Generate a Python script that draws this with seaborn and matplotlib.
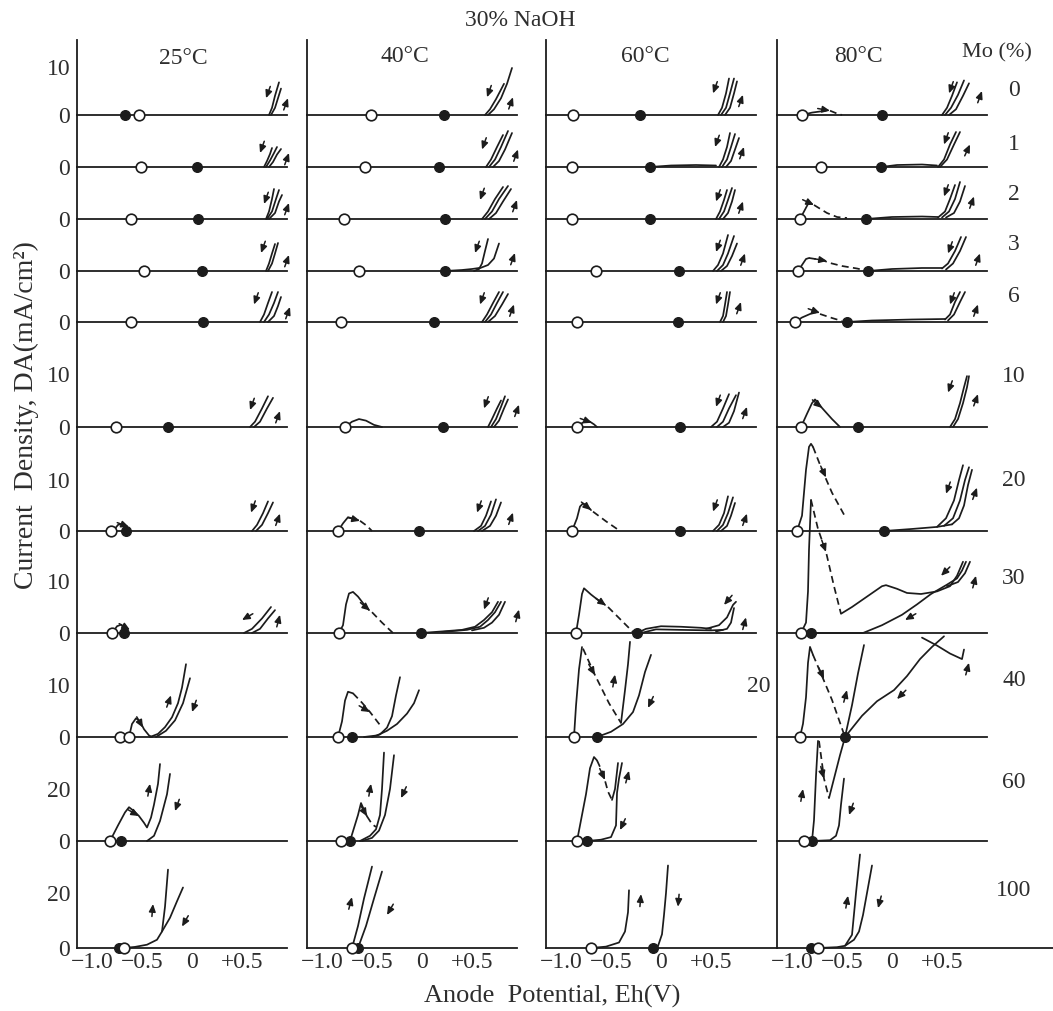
import math
import matplotlib
matplotlib.use("Agg")
import matplotlib.pyplot as plt
import seaborn as sns

# ---------------------------------------------------------------- data
temps = ["25°C", "40°C", "60°C", "80°C"]
mo_pct = ["0", "1", "2", "3", "6", "10", "20", "30", "40", "60", "100"]

# potentials (V) of the open circles and the filled circles, one per Mo row
open_25 = [[-0.53], [-0.51], [-0.61], [-0.48], [-0.61], [-0.76], [-0.81], [-0.80], [-0.72, -0.63], [-0.82], [-0.68]]
filled_25 = [-0.67, 0.05, 0.06, 0.10, 0.11, -0.24, -0.66, -0.68, None, -0.71, -0.73]
open_40 = [[-0.51], [-0.57], [-0.78], [-0.63], [-0.81], [-0.77], [-0.84], [-0.83], [-0.84], [-0.81], [-0.70]]
filled_40 = [0.22, 0.17, 0.23, 0.23, 0.12, 0.21, -0.03, -0.01, -0.70, -0.72, -0.64]
open_60 = [[-0.88], [-0.89], [-0.89], [-0.65], [-0.84], [-0.84], [-0.89], [-0.85], [-0.87], [-0.84], [-0.70]]
filled_60 = [-0.21, -0.11, -0.11, 0.18, 0.17, 0.19, 0.19, -0.24, -0.64, -0.74, -0.08]
open_80 = [[-0.90], [-0.71], [-0.92], [-0.94], [-0.97], [-0.91], [-0.95], [-0.91], [-0.92], [-0.88], [-0.74]]
filled_80 = [-0.10, -0.11, -0.26, -0.24, -0.45, -0.34, -0.08, -0.81, -0.47, -0.80, -0.81]

# polarisation curves (V, mA/cm2); "s" = measured sweep, "d" = dashed transition
curves_25 = [
    [("s", [(0.77, 0), (0.80, 1.5), (0.83, 4.0), (0.87, 6.8)]),
     ("s", [(0.79, 0), (0.83, 1.5), (0.86, 3.5), (0.89, 5.5)])],
    [("s", [(0.72, 0), (0.75, 1.2), (0.78, 2.6), (0.80, 3.8)]),
     ("s", [(0.74, 0), (0.78, 1.3), (0.82, 2.8), (0.85, 4.0)]),
     ("s", [(0.77, 0), (0.81, 1.0), (0.85, 2.5), (0.89, 3.6)])],
    [("s", [(0.74, 0), (0.77, 1.5), (0.80, 4.0), (0.82, 6.0)]),
     ("s", [(0.75, 0), (0.80, 1.5), (0.84, 4.0), (0.87, 5.8)]),
     ("s", [(0.77, 0), (0.83, 1.2), (0.87, 3.5), (0.90, 4.8)])],
    [("s", [(0.74, 0), (0.77, 1.5), (0.80, 3.5), (0.83, 5.4)]),
     ("s", [(0.76, 0), (0.80, 1.5), (0.83, 3.5), (0.86, 5.6)])],
    [("s", [(0.68, 0), (0.72, 1.5), (0.76, 3.8), (0.80, 6.0)]),
     ("s", [(0.72, 0), (0.77, 1.5), (0.82, 3.8), (0.86, 6.0)]),
     ("s", [(0.76, 0), (0.82, 1.2), (0.86, 3.2), (0.89, 5.0)])],
    [("s", [(0.58, 0), (0.63, 1.0), (0.70, 3.5), (0.76, 5.8)]),
     ("s", [(0.62, 0), (0.68, 1.0), (0.75, 3.5), (0.81, 5.5)])],
    [("s", [(-0.78, 0.2), (-0.74, 1.2), (-0.70, 1.4), (-0.66, 0.5)]),
     ("s", [(0.60, 0), (0.65, 1.2), (0.71, 3.5), (0.76, 5.8)]),
     ("s", [(0.64, 0), (0.70, 1.2), (0.76, 3.5), (0.81, 5.6)])],
    [("s", [(-0.79, 0.2), (-0.75, 1.3), (-0.71, 1.6), (-0.66, 0.6)]),
     ("s", [(0.52, 0), (0.60, 0.8), (0.70, 2.8), (0.79, 5.0)]),
     ("s", [(0.60, 0), (0.68, 0.8), (0.76, 2.8), (0.83, 4.4)])],
    [("s", [(-0.63, 0), (-0.60, 2.5), (-0.56, 3.6), (-0.52, 3.0), (-0.48, 1.5), (-0.43, 0.3), (-0.40, 0)]),
     ("s", [(-0.42, 0), (-0.34, 0.6), (-0.27, 1.9), (-0.20, 3.8), (-0.14, 6.5), (-0.10, 9.5), (-0.06, 14.0)]),
     ("s", [(-0.36, 0), (-0.26, 1.2), (-0.17, 3.2), (-0.09, 6.5), (-0.02, 11.3)])],
    [("s", [(-0.82, 0), (-0.74, 6), (-0.67, 11), (-0.63, 13), (-0.58, 11.5), (-0.53, 9.6), (-0.48, 7),
            (-0.45, 5.2), (-0.41, 9), (-0.38, 14), (-0.34, 22), (-0.32, 29.6)]),
     ("s", [(-0.45, 0), (-0.38, 2), (-0.32, 7.7), (-0.25, 18), (-0.22, 25.8)])],
    [("s", [(-0.68, 0), (-0.57, 0.4), (-0.45, 1.2), (-0.35, 3.0), (-0.30, 6.0), (-0.27, 15), (-0.24, 28.5)]),
     ("s", [(-0.30, 6.0), (-0.22, 11), (-0.15, 17), (-0.09, 22)])],
]

curves_40 = [
    [("s", [(0.63, 0), (0.68, 1.2), (0.74, 3.3), (0.82, 6.5)]),
     ("s", [(0.66, 0), (0.72, 1.2), (0.79, 3.5), (0.85, 6.5), (0.90, 9.8)])],
    [("s", [(0.64, 0), (0.69, 1.5), (0.75, 4.0), (0.81, 6.4)]),
     ("s", [(0.67, 0), (0.73, 1.5), (0.79, 4.0), (0.86, 7.2)]),
     ("s", [(0.71, 0), (0.77, 1.2), (0.83, 3.5), (0.90, 6.8)])],
    [("s", [(0.60, 0), (0.66, 1.5), (0.73, 4.0), (0.81, 6.4)]),
     ("s", [(0.63, 0), (0.70, 1.5), (0.77, 4.0), (0.86, 6.6)]),
     ("s", [(0.67, 0), (0.74, 1.2), (0.81, 3.5), (0.89, 6.0)])],
    [("s", [(0.23, 0), (0.40, 0.2), (0.50, 0.4), (0.57, 0.6)]),
     ("s", [(0.52, 0), (0.57, 0.4), (0.60, 1.5), (0.63, 4.0), (0.66, 6.4)]),
     ("s", [(0.57, 0.5), (0.66, 1.2), (0.72, 2.5), (0.77, 5.5)])],
    [("s", [(0.60, 0), (0.65, 1.5), (0.71, 3.8), (0.77, 6.0)]),
     ("s", [(0.63, 0), (0.69, 1.5), (0.75, 3.8), (0.81, 6.0)]),
     ("s", [(0.66, 0), (0.73, 1.2), (0.80, 3.5), (0.86, 5.6)])],
    [("s", [(-0.77, 0), (-0.70, 1.0), (-0.63, 1.5), (-0.56, 1.2), (-0.48, 0.4), (-0.40, 0)]),
     ("s", [(0.66, 0), (0.70, 1.5), (0.75, 3.5), (0.79, 5.0)]),
     ("s", [(0.69, 0), (0.74, 1.5), (0.79, 3.8), (0.83, 5.8)]),
     ("s", [(0.72, 0), (0.77, 1.2), (0.82, 3.5), (0.86, 5.2)])],
    [("s", [(-0.84, 0), (-0.79, 1.5), (-0.74, 2.7), (-0.70, 2.5), (-0.64, 2.1)]),
     ("d", [(-0.62, 2.0), (-0.55, 1.0), (-0.50, 0)]),
     ("s", [(0.52, 0), (0.59, 1.0), (0.64, 3.0), (0.69, 5.8)]),
     ("s", [(0.56, 0), (0.63, 1.0), (0.69, 3.2), (0.74, 6.2)]),
     ("s", [(0.60, 0), (0.68, 1.0), (0.74, 3.0), (0.79, 5.6)])],
    [("s", [(-0.83, 0), (-0.79, 1.5), (-0.76, 5.5), (-0.73, 7.6), (-0.69, 7.9), (-0.64, 7.0), (-0.58, 5.5), (-0.53, 4.4)]),
     ("d", [(-0.50, 4.0), (-0.40, 2.0), (-0.29, 0)]),
     ("s", [(-0.01, 0), (0.20, 0.3), (0.40, 0.6), (0.53, 1.2), (0.62, 2.5), (0.70, 4.0), (0.76, 6.0)]),
     ("s", [(0.20, 0.2), (0.45, 0.6), (0.58, 1.2), (0.66, 2.5), (0.73, 4.0), (0.79, 6.0)]),
     ("s", [(0.50, 0.5), (0.62, 1.0), (0.70, 2.0), (0.77, 3.5), (0.83, 6.0)])],
    [("s", [(-0.84, 0), (-0.80, 3.0), (-0.77, 7.0), (-0.74, 8.7), (-0.69, 8.4)]),
     ("d", [(-0.69, 8.4), (-0.60, 6.6), (-0.52, 4.8), (-0.46, 3.3), (-0.42, 2.3)]),
     ("s", [(-0.50, 0), (-0.42, 0.5), (-0.35, 1.8), (-0.30, 4.0), (-0.26, 8.0), (-0.22, 11.5)]),
     ("s", [(-0.58, 0), (-0.45, 0.3), (-0.35, 1.2), (-0.25, 2.5), (-0.15, 4.5), (-0.08, 6.5), (-0.03, 9.0)])],
    [("s", [(-0.72, 0), (-0.68, 5), (-0.64, 10), (-0.61, 14.6), (-0.58, 12), (-0.55, 9.5)]),
     ("d", [(-0.55, 9.5), (-0.50, 6.5), (-0.46, 5.4)]),
     ("s", [(-0.62, 0), (-0.52, 2), (-0.46, 4.5), (-0.42, 10), (-0.40, 20), (-0.38, 34)]),
     ("s", [(-0.60, 0), (-0.50, 1.2), (-0.43, 4.0), (-0.37, 10), (-0.32, 20), (-0.28, 33)])],
    [("s", [(-0.70, 0), (-0.64, 8), (-0.58, 18), (-0.50, 29.6)]),
     ("s", [(-0.64, 0), (-0.56, 8), (-0.48, 18), (-0.40, 27.8)])],
]

curves_60 = [
    [("s", [(0.57, 0), (0.61, 1.5), (0.65, 4.5), (0.68, 7.6)]),
     ("s", [(0.60, 0), (0.65, 1.5), (0.69, 4.5), (0.73, 7.6)]),
     ("s", [(0.64, 0), (0.69, 1.5), (0.73, 4.5), (0.76, 7.0)])],
    [("s", [(-0.11, 0), (0.10, 0.3), (0.35, 0.4), (0.55, 0.3)]),
     ("s", [(0.58, 0), (0.62, 1.5), (0.66, 4.0), (0.69, 6.8)]),
     ("s", [(0.61, 0), (0.66, 1.5), (0.70, 4.0), (0.74, 6.6)]),
     ("s", [(0.65, 0), (0.70, 1.2), (0.74, 3.5), (0.78, 5.8)])],
    [("s", [(0.55, 0), (0.59, 1.5), (0.63, 3.8), (0.66, 5.8)]),
     ("s", [(0.58, 0), (0.63, 1.5), (0.67, 3.8), (0.71, 6.2)]),
     ("s", [(0.62, 0), (0.67, 1.2), (0.71, 3.5), (0.74, 5.8)])],
    [("s", [(0.52, 0), (0.57, 1.2), (0.62, 3.5), (0.67, 7.2)]),
     ("s", [(0.56, 0), (0.62, 1.2), (0.67, 3.5), (0.73, 7.0)]),
     ("s", [(0.60, 0), (0.66, 1.0), (0.71, 3.0), (0.76, 5.5)])],
    [("s", [(0.59, 0), (0.62, 1.2), (0.64, 3.5), (0.66, 6.0)]),
     ("s", [(0.62, 0), (0.65, 1.2), (0.67, 3.5), (0.69, 6.0)])],
    [("s", [(-0.84, 0), (-0.80, 0.6), (-0.76, 1.1), (-0.71, 1.0), (-0.67, 0.5), (-0.64, 0)]),
     ("s", [(0.50, 0), (0.56, 1.0), (0.62, 3.5), (0.68, 6.2)]),
     ("s", [(0.56, 0), (0.62, 1.0), (0.68, 3.5), (0.75, 6.0)]),
     ("s", [(0.62, 0), (0.68, 0.8), (0.73, 3.0), (0.78, 6.5)])],
    [("s", [(-0.89, 0), (-0.84, 2.5), (-0.81, 4.8), (-0.78, 5.4), (-0.74, 5.0), (-0.70, 4.1)]),
     ("d", [(-0.68, 3.8), (-0.55, 1.9), (-0.41, 0)]),
     ("s", [(0.52, 0), (0.58, 1.2), (0.63, 3.5), (0.67, 6.8)]),
     ("s", [(0.56, 0), (0.62, 1.2), (0.67, 3.5), (0.72, 6.6)]),
     ("s", [(0.60, 0), (0.66, 1.0), (0.70, 3.0), (0.74, 5.5)])],
    [("s", [(-0.85, 0), (-0.82, 3.5), (-0.79, 7.5), (-0.77, 8.6), (-0.70, 7.4), (-0.62, 6.2), (-0.56, 5.4)]),
     ("d", [(-0.53, 5.0), (-0.40, 2.5), (-0.27, 0)]),
     ("s", [(-0.24, 0), (-0.15, 0.8), (0.0, 1.3), (0.2, 1.2), (0.4, 1.0), (0.5, 0.8)]),
     ("s", [(-0.20, 0), (-0.05, 0.7), (0.2, 0.6), (0.5, 0.5), (0.62, 0.6)]),
     ("s", [(0.45, 0.8), (0.58, 1.5), (0.66, 3.0), (0.72, 5.4), (0.75, 6.0)]),
     ("s", [(0.55, 0.3), (0.66, 0.8), (0.70, 2.0), (0.73, 4.8)])],
    [("s", [(-0.87, 0), (-0.85, 6), (-0.82, 13), (-0.79, 17.3)]),
     ("d", [(-0.78, 17), (-0.66, 11.9), (-0.52, 6.5), (-0.40, 2.7)]),
     ("s", [(-0.40, 2.7), (-0.36, 9), (-0.33, 14), (-0.31, 18.3)]),
     ("s", [(-0.64, 0), (-0.50, 1.0), (-0.38, 2.5), (-0.28, 4.8), (-0.22, 8), (-0.16, 12.5), (-0.10, 15.8)])],
    [("s", [(-0.84, 0), (-0.80, 8), (-0.75, 18), (-0.71, 28), (-0.67, 32.3), (-0.64, 31)]),
     ("d", [(-0.64, 31), (-0.58, 26), (-0.53, 19), (-0.49, 15.8)]),
     ("s", [(-0.49, 15.8), (-0.46, 20), (-0.43, 30)]),
     ("s", [(-0.74, 0), (-0.60, 0.5), (-0.50, 1.5), (-0.45, 6), (-0.44, 18.5), (-0.42, 24), (-0.39, 30)])],
    [("s", [(-0.70, 0), (-0.55, 0.5), (-0.42, 2), (-0.36, 6), (-0.33, 13), (-0.32, 21)]),
     ("s", [(-0.08, 0), (-0.03, 0.7), (0.01, 5), (0.03, 12), (0.05, 20), (0.07, 30)])],
]

curves_80 = [
    [("s", [(-0.90, 0), (-0.80, 0.5), (-0.66, 0.9)]),
     ("d", [(-0.62, 0.9), (-0.55, 0.3), (-0.50, 0)]),
     ("s", [(0.50, 0), (0.55, 1.5), (0.60, 4.0), (0.65, 6.8)]),
     ("s", [(0.53, 0), (0.59, 1.5), (0.66, 4.2), (0.72, 7.2)]),
     ("s", [(0.57, 0), (0.64, 1.2), (0.71, 4.0), (0.77, 6.6)])],
    [("s", [(-0.11, 0), (0.05, 0.4), (0.30, 0.5), (0.45, 0.3)]),
     ("s", [(0.46, 0), (0.52, 1.5), (0.58, 4.5), (0.64, 7.0)]),
     ("s", [(0.48, 0), (0.55, 1.5), (0.62, 4.5), (0.68, 7.0)])],
    [("s", [(-0.92, 0), (-0.88, 1.5), (-0.84, 3.0), (-0.81, 3.1)]),
     ("d", [(-0.78, 2.8), (-0.65, 1.2), (-0.55, 0.4), (-0.45, 0.2)]),
     ("s", [(-0.26, 0), (0.0, 0.4), (0.30, 0.5), (0.46, 0.4)]),
     ("s", [(0.46, 0.3), (0.53, 1.5), (0.58, 4.0), (0.63, 6.8)]),
     ("s", [(0.50, 0.3), (0.57, 1.5), (0.63, 4.0), (0.68, 7.4)]),
     ("s", [(0.54, 0.3), (0.62, 1.2), (0.68, 3.5), (0.73, 6.6)])],
    [("s", [(-0.94, 0), (-0.90, 1.2), (-0.86, 2.4), (-0.83, 2.6)]),
     ("d", [(-0.83, 2.6), (-0.70, 2.2), (-0.62, 1.6), (-0.50, 1.0), (-0.35, 0.5), (-0.24, 0)]),
     ("s", [(-0.24, 0), (0.0, 0.4), (0.30, 0.6), (0.50, 0.6)]),
     ("s", [(0.50, 0.5), (0.56, 1.5), (0.63, 4.0), (0.69, 6.8)]),
     ("s", [(0.54, 0.3), (0.61, 1.5), (0.68, 4.0), (0.74, 6.8)])],
    [("s", [(-0.97, 0), (-0.90, 0.9), (-0.82, 1.6), (-0.76, 1.9)]),
     ("d", [(-0.72, 1.6), (-0.60, 0.8), (-0.50, 0.2)]),
     ("s", [(-0.45, 0), (-0.20, 0.3), (0.20, 0.5), (0.53, 0.6)]),
     ("s", [(0.53, 0.5), (0.58, 1.5), (0.63, 4.0), (0.68, 6.0)]),
     ("s", [(0.56, 0.3), (0.62, 1.5), (0.68, 4.0), (0.73, 6.0)])],
    [("s", [(-0.91, 0), (-0.85, 2.5), (-0.80, 4.5), (-0.77, 5.2), (-0.74, 4.6), (-0.70, 3.6), (-0.60, 1.5), (-0.52, 0)]),
     ("s", [(0.58, 0), (0.63, 1.5), (0.68, 4.5), (0.72, 7.5), (0.75, 9.6)]),
     ("s", [(0.61, 0), (0.66, 1.5), (0.71, 4.5), (0.75, 7.5), (0.77, 9.6)])],
    [("s", [(-0.95, 0), (-0.90, 3), (-0.86, 12), (-0.83, 16.5), (-0.81, 17.1), (-0.79, 16.5)]),
     ("d", [(-0.79, 16.5), (-0.70, 12), (-0.60, 7.5), (-0.46, 2.5)]),
     ("s", [(-0.08, 0), (0.20, 0.4), (0.45, 0.8), (0.60, 1.3)]),
     ("s", [(0.45, 0.8), (0.54, 2.5), (0.62, 6.0), (0.67, 10), (0.71, 12.9)]),
     ("s", [(0.52, 1.0), (0.61, 2.5), (0.68, 6.0), (0.73, 10), (0.77, 12.5)]),
     ("s", [(0.60, 1.3), (0.67, 2.5), (0.72, 5.0), (0.76, 9.0), (0.80, 12.0)])],
    [("s", [(-0.91, 0), (-0.86, 2), (-0.84, 8), (-0.83, 16), (-0.81, 25.6)]),
     ("d", [(-0.81, 25.6), (-0.74, 20), (-0.66, 15.6), (-0.58, 9), (-0.51, 3.7)]),
     ("s", [(-0.51, 3.7), (-0.40, 5.0), (-0.25, 7.0), (-0.10, 9.0), (-0.06, 9.2), (0.05, 8.5), (0.15, 7.7),
            (0.29, 7.5), (0.45, 8.0), (0.58, 9.0), (0.65, 11), (0.71, 13.7)]),
     ("s", [(-0.81, 0), (-0.29, 0), (-0.10, 1.5), (0.10, 3.5), (0.25, 5.5), (0.39, 7.5), (0.55, 9.3),
            (0.65, 10.5), (0.70, 12), (0.74, 13.7)]),
     ("s", [(0.55, 9.0), (0.66, 9.8), (0.73, 11.5), (0.78, 13.7)])],
    [("s", [(-0.92, 0), (-0.89, 5), (-0.86, 15), (-0.84, 28), (-0.82, 34), (-0.79, 31)]),
     ("d", [(-0.79, 31), (-0.70, 23), (-0.60, 14), (-0.47, 0)]),
     ("s", [(-0.47, 0), (-0.40, 12), (-0.34, 24), (-0.28, 34.7)]),
     ("s", [(-0.47, 0), (-0.30, 8), (-0.15, 13.5), (0.02, 17.7), (0.15, 23), (0.28, 29.4), (0.40, 34), (0.52, 38)]),
     ("s", [(0.30, 37.5), (0.45, 34.5), (0.58, 31.5), (0.70, 29.4), (0.72, 33)])],
    [("s", [(-0.80, 0), (-0.78, 8), (-0.76, 25), (-0.74, 38.5)]),
     ("d", [(-0.73, 38.5), (-0.70, 30), (-0.68, 24), (-0.63, 16.5)]),
     ("s", [(-0.63, 16.5), (-0.58, 24), (-0.52, 33), (-0.48, 38.5)]),
     ("s", [(-0.80, 0), (-0.62, 0.3), (-0.56, 2), (-0.53, 6), (-0.51, 14), (-0.48, 24)])],
    [("s", [(-0.74, 0), (-0.55, 0.3), (-0.47, 0.8), (-0.40, 4.8), (-0.36, 20), (-0.32, 34)]),
     ("s", [(-0.47, 0.8), (-0.38, 3.0), (-0.33, 6), (-0.29, 12), (-0.24, 22), (-0.20, 30)])],
]

# sweep-direction arrows: (V, mA/cm2, pointing direction in degrees)
arrows_25 = [
    [(0.74, 3.5, 250), (0.96, 3.5, 70)], [(0.68, 2.8, 250), (0.97, 2.8, 70)],
    [(0.72, 3.0, 250), (0.97, 3.2, 70)], [(0.69, 3.6, 250), (0.97, 3.2, 70)],
    [(0.62, 3.5, 250), (0.98, 3.0, 70)], [(0.58, 3.2, 250), (0.88, 3.0, 70)],
    [(-0.63, 0.8, -20), (0.59, 3.6, 250), (0.88, 3.4, 70)],
    [(-0.62, 0.6, -30), (0.50, 2.5, 210), (0.88, 3.5, 75)],
    [(-0.49, 1.8, -60), (-0.21, 8, 70), (0.0, 4.8, 250)],
    [(-0.53, 9.6, -30), (-0.42, 22, 80), (-0.17, 11.5, 250)],
    [(-0.39, 16, 85), (-0.10, 7.8, 240)],
]
arrows_40 = [
    [(0.65, 3.7, 250), (0.91, 3.7, 70)], [(0.60, 3.5, 250), (0.96, 3.5, 70)],
    [(0.58, 3.8, 250), (0.95, 3.8, 70)], [(0.53, 3.6, 250), (0.93, 3.6, 70)],
    [(0.58, 3.5, 250), (0.92, 3.5, 70)], [(0.62, 3.5, 250), (0.97, 4.2, 70)],
    [(-0.62, 2.0, -15), (0.55, 3.6, 250), (0.91, 3.6, 70)],
    [(-0.52, 4.3, -40), (0.62, 4.5, 250), (0.97, 4.5, 75)],
    [(-0.52, 4.8, -30)],
    [(-0.55, 9.5, -60), (-0.51, 22, 80), (-0.21, 16.5, 245)],
    [(-0.70, 18.5, 75), (-0.35, 12, 240)],
]
arrows_60 = [
    [(0.52, 4.5, 250), (0.82, 4.2, 70)], [(0.54, 4.0, 250), (0.83, 4.0, 70)],
    [(0.55, 3.5, 250), (0.82, 3.5, 70)], [(0.55, 3.8, 250), (0.84, 3.5, 70)],
    [(0.55, 3.5, 250), (0.80, 4.0, 70)],
    [(-0.69, 0.8, -20), (0.55, 3.8, 250), (0.86, 3.8, 70)],
    [(-0.70, 4.1, -40), (0.52, 3.8, 250), (0.86, 3.4, 70)],
    [(-0.55, 5.3, -35), (0.63, 5.4, 230), (0.85, 3.0, 75)],
    [(-0.66, 11.9, -60), (-0.46, 12, 80), (-0.13, 5.6, 245)],
    [(-0.56, 23.5, -65), (-0.32, 27, 75), (-0.41, 4.2, 245)],
    [(-0.20, 19.6, 85), (0.17, 15, 265)],
]
arrows_80 = [
    [(-0.62, 0.9, -10), (0.57, 4.5, 250), (0.90, 5.0, 70)],
    [(0.52, 4.5, 250), (0.78, 4.5, 65)],
    [(-0.78, 2.8, -25), (0.52, 4.5, 250), (0.82, 4.5, 70)],
    [(-0.65, 2.0, -10), (0.56, 3.5, 250), (0.88, 3.5, 70)],
    [(-0.72, 1.8, -20), (0.58, 3.5, 250), (0.86, 3.5, 70)],
    [(-0.70, 3.6, -40), (0.56, 6.5, 250), (0.86, 6.2, 70)],
    [(-0.66, 10.5, -65), (0.54, 7.3, 250), (0.85, 8.5, 70)],
    [(-0.66, 15.6, -70), (0.49, 11, 225), (0.13, 2.5, 210), (0.84, 11, 75)],
    [(-0.68, 21.9, -65), (-0.45, 17.7, 75), (0.05, 14.3, 225), (0.77, 28, 75)],
    [(-0.68, 24, -75), (-0.89, 20, 80), (-0.43, 10, 250)],
    [(-0.44, 19, 80), (-0.14, 14.5, 255)],
]

# y tick value per Mo row (columns 25/40/60 °C) and for the 80 °C column
y_ticks = [10, None, None, None, None, 10, 10, 10, 10, 20, 20]
y_ticks_80 = [10, None, None, None, None, 10, 10, 10, 20, 20, 20]
x_ticks = [-1.0, -0.5, 0.0, 0.5]
x_tick_labels = ["\u22121.0", "\u22120.5", "0", "+0.5"]

# ---------------------------------------------------------------- layout / style
sns.set_style("white")
plt.rcParams["font.family"] = ["Liberation Serif", "DejaVu Serif"]
INK = "#1c1c1c"
TXT = "#2e2e2e"

W, H = 1053, 1011
fig = plt.figure(figsize=(W / 100, H / 100), dpi=100)

baselines = [115, 167, 219, 271, 322, 427, 531, 633, 737, 841, 948]
tops = [40] + baselines[:-1]
px_per_unit = [4.8, 5.0, 5.0, 5.0, 5.0, 5.3, 5.1, 5.2, 5.2, 2.6, 2.75]
spine_x = [77, 307, 546, 777]
X_LO, X_HI = -1.15, 0.95
PX_PER_V = 100

cols = [
    (open_25, filled_25, curves_25, arrows_25, y_ticks),
    (open_40, filled_40, curves_40, arrows_40, y_ticks),
    (open_60, filled_60, curves_60, arrows_60, y_ticks),
    (open_80, filled_80, curves_80, arrows_80, y_ticks_80),
]


def draw_arrow(ax, x, y, ang):
    L = 9.0
    dx = -L * math.cos(math.radians(ang))
    dy = -L * math.sin(math.radians(ang))
    ax.annotate("", xy=(x, y), xytext=(dx, dy), textcoords="offset points",
                arrowprops=dict(arrowstyle="-|>,head_length=0.45,head_width=0.2",
                                color=INK, lw=1.1, shrinkA=0, shrinkB=0),
                annotation_clip=False, zorder=4)


for c, (opens, filleds, curves, arrows, yt) in enumerate(cols):
    for r in range(len(mo_pct)):
        base, top = baselines[r], tops[r]
        h_px = base - top
        scale = px_per_unit[r]
        if c == 3 and r == 8:
            scale = 2.65
        x_hi = X_HI
        if r == len(mo_pct) - 1 and c == 2:
            x_hi = (spine_x[3] - spine_x[2]) / PX_PER_V + X_LO
        if r == len(mo_pct) - 1 and c == 3:
            x_hi = (W - spine_x[3]) / PX_PER_V + X_LO
        ax = fig.add_axes([spine_x[c] / W, 1 - base / H,
                           (x_hi - X_LO) * PX_PER_V / W, h_px / H])
        ax.set_xlim(X_LO, x_hi)
        ax.set_ylim(0, h_px / scale)
        ax.patch.set_alpha(0)
        for s in ("top", "right"):
            ax.spines[s].set_visible(False)
        for s in ("left", "bottom"):
            ax.spines[s].set_color(INK)
            ax.spines[s].set_linewidth(1.3)

        # curves
        for kind, pts in curves[r]:
            xs = [p[0] for p in pts]
            ys = [p[1] for p in pts]
            sns.lineplot(x=xs, y=ys, ax=ax, sort=False, estimator=None, color=INK,
                         linewidth=1.25, linestyle=(0, (4, 2.5)) if kind == "d" else "-",
                         clip_on=False, legend=False)
        # arrows
        for (x, y, ang) in arrows[r]:
            draw_arrow(ax, x, y, ang)
        # rest potentials
        if filleds[r] is not None:
            sns.scatterplot(x=[filleds[r]], y=[0], ax=ax, s=48, color=INK, edgecolor=INK,
                            linewidth=1.0, zorder=6, clip_on=False, legend=False)
        sns.scatterplot(x=opens[r], y=[0] * len(opens[r]), ax=ax, s=58, color="white",
                        edgecolor=INK, linewidth=1.2, zorder=7, clip_on=False, legend=False)

        # x ticks
        ax.set_xticks(x_ticks)
        ax.tick_params(axis="x", direction="in", length=5, width=1.1, color=INK,
                       labelsize=17, labelcolor=TXT, pad=3)
        if r == len(mo_pct) - 1:
            ax.set_xticklabels(x_tick_labels)
        else:
            ax.set_xticklabels([])
        # y ticks
        t = yt[r]
        if c == 0:
            ticks = [0] + ([t] if t else [])
            ax.set_yticks(ticks)
            ax.set_yticklabels([str(v) for v in ticks])
        else:
            ax.set_yticks([t] if t else [])
            if c == 3 and r == 8:
                ax.set_yticklabels([str(t)])
            else:
                ax.set_yticklabels([])
        ax.tick_params(axis="y", direction="in", length=7, width=1.1, color=INK,
                       labelsize=17, labelcolor=TXT, pad=5)
        ax.set_xlabel("")
        ax.set_ylabel("")


def ftext(x, y, s, **kw):
    kw.setdefault("ha", "center")
    kw.setdefault("va", "center")
    kw.setdefault("color", TXT)
    fig.text(x / W, 1 - y / H, s, **kw)


ftext(520, 21, "30% NaOH", fontsize=17)
for t, (tx, ty) in zip(temps, [(183, 59), (405, 56), (645, 57), (858, 56)]):
    ftext(tx, ty, t, fontsize=17)
ftext(997, 53, "Mo (%)", fontsize=16)
mo_y = [90, 145, 195, 245, 297, 376, 480, 578, 680, 782, 890]
for lab, yy in zip(mo_pct, mo_y):
    ftext(1014, yy, lab, fontsize=17)
ftext(552, 996, "Anode  Potential, Eh(V)", fontsize=19)
ftext(26, 415, "Current  Density, DA(mA/cm²)", fontsize=20, rotation=90)

fig.savefig("out.png", dpi=100, facecolor="white")
